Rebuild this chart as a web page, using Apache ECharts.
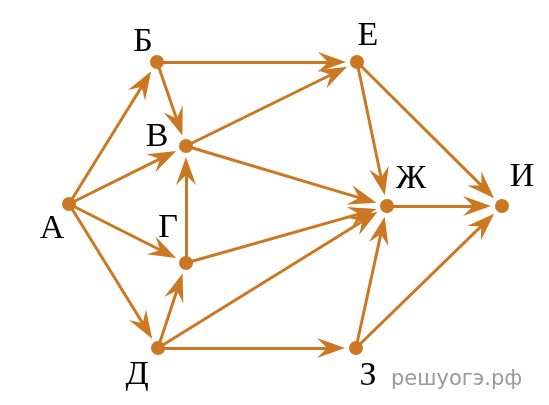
<!DOCTYPE html>
<html>
<head>
<meta charset="utf-8">
<script src="https://cdn.jsdelivr.net/npm/echarts@6/dist/echarts.min.js"></script>
<style>
  html, body { margin: 0; padding: 0; background: #fff; }
  #chart { width: 549px; height: 405px; }
</style>
</head>
<body>
<div id="chart"></div>
<script>
// graph nodes (layout coordinates)
const nodeNames = ['А', 'Б', 'В', 'Г', 'Д', 'Е', 'Ж', 'З', 'И']
const nodeX = [69, 157, 186, 186, 158, 357, 387, 356, 502]
const nodeY = [204, 62, 146, 263, 348, 62, 206, 348, 206]

// directed edges: [from, to]
const edges = [
    ['А', 'Б'], ['А', 'В'], ['А', 'Г'], ['А', 'Д'],
    ['Б', 'В'], ['Б', 'Е'],
    ['В', 'Е'], ['В', 'Ж'],
    ['Г', 'В'], ['Г', 'Ж'],
    ['Д', 'Г'], ['Д', 'Ж'], ['Д', 'З'],
    ['Е', 'Ж'], ['Е', 'И'],
    ['Ж', 'И'],
    ['З', 'Ж'], ['З', 'И']
]

const watermark = 'решуогэ.рф'

const color = '#cc7722'

// where each letter sits relative to its dot
const labelOffset = {
    'А': [-17, 25], 'Б': [-14, -20], 'В': [-29, -9], 'Г': [-18, -35], 'Д': [-21, 27],
    'Е': [11, -26], 'Ж': [24, -27], 'З': [12, 28], 'И': [20, -29]
}

// barbed arrow, tip at top, padded to a square box
const arrowPath = 'path://M-14,0 M14,28 M0,0 L10,28 L0,18 L-10,28 Z'

const chart = echarts.init(document.getElementById('chart'))

const option = {
    animation: false,
    grid: { left: 0, right: 0, top: 0, bottom: 0 },
    xAxis: { type: 'value', min: 0, max: 549, show: false },
    yAxis: { type: 'value', min: 0, max: 405, inverse: true, show: false },
    series: [
        {
            type: 'graph',
            coordinateSystem: 'cartesian2d',
            symbol: 'circle',
            symbolSize: 50,
            itemStyle: { color: 'rgba(0,0,0,0)' },
            label: { show: false },
            edgeSymbol: ['none', arrowPath],
            edgeSymbolSize: 28,
            lineStyle: { color: color, width: 3, opacity: 1, curveness: 0 },
            emphasis: { disabled: true },
            silent: true,
            data: nodeNames.map((n, i) => ({ name: n, value: [nodeX[i], nodeY[i]] })),
            links: edges.map(e => ({ source: e[0], target: e[1] })),
            z: 1
        },
        {
            type: 'scatter',
            symbol: 'circle',
            symbolSize: 14,
            itemStyle: { color: color, opacity: 1 },
            silent: true,
            label: {
                show: true,
                position: 'inside',
                formatter: '{b}',
                fontFamily: 'Liberation Serif',
                fontSize: 34,
                color: '#000'
            },
            data: nodeNames.map((n, i) => ({
                name: n,
                value: [nodeX[i], nodeY[i]],
                label: { offset: labelOffset[n] }
            })),
            z: 3
        }
    ],
    graphic: [{
        type: 'text',
        left: 391,
        top: 369,
        style: {
            text: watermark,
            font: '21px "DejaVu Sans"',
            fill: '#999'
        }
    }]
}

chart.setOption(option)
</script>
</body>
</html>
